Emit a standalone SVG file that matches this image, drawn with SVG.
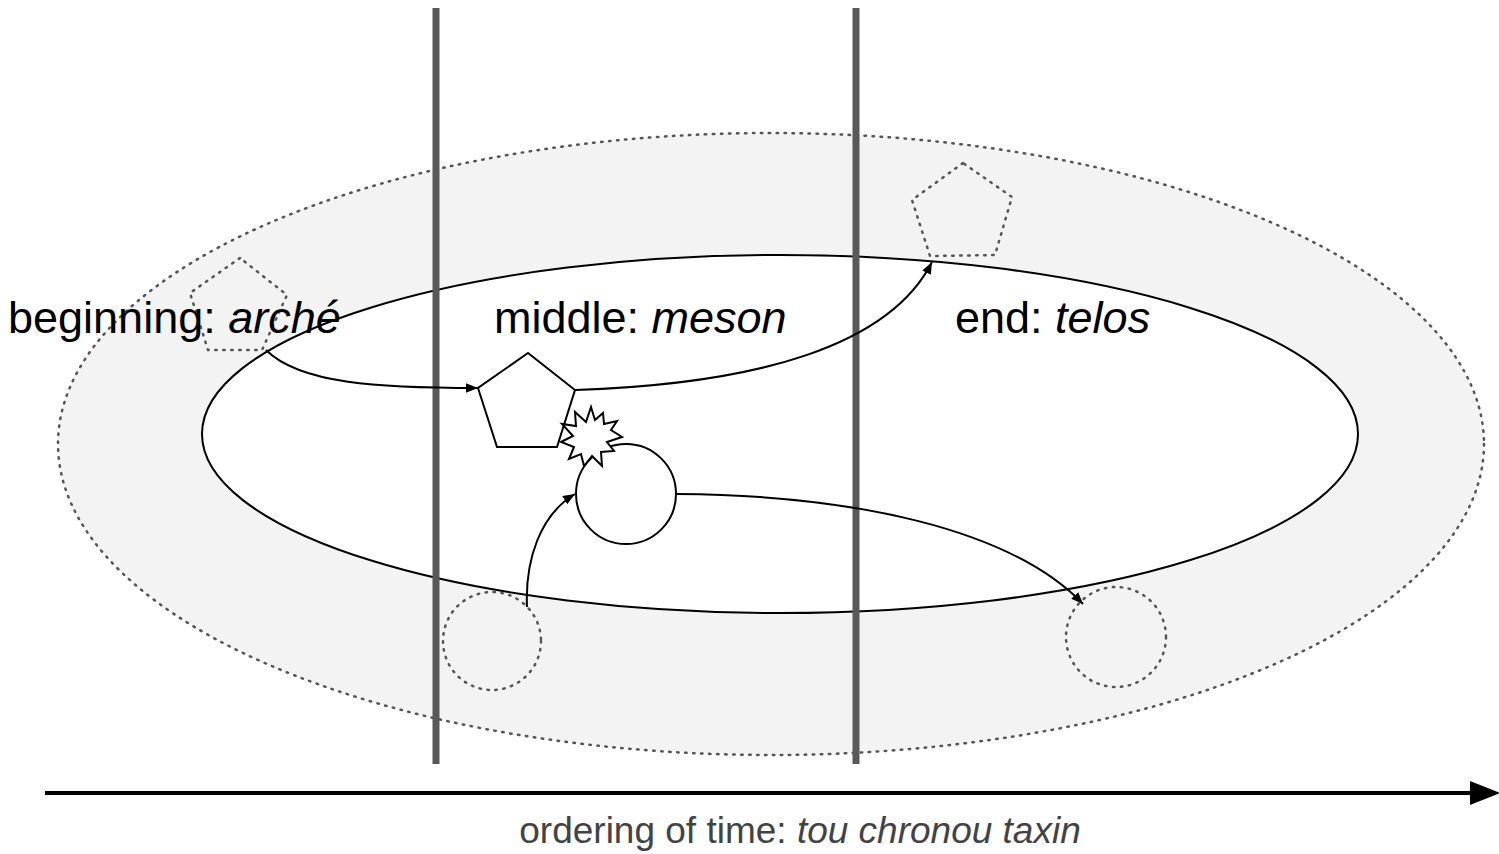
<svg xmlns="http://www.w3.org/2000/svg" width="1499" height="854" viewBox="0 0 1499 854">
<style>
.dotted{fill:none;stroke:#555;stroke-width:2.5;stroke-dasharray:1.5 6.5;stroke-linecap:round}
.solid{fill:#fff;stroke:#000;stroke-width:2}
.conn{fill:none;stroke:#000;stroke-width:2}
.lbl{font-family:"Liberation Sans",Arial,sans-serif;font-size:45px;fill:#000}
.bar{stroke:#595959;stroke-width:7}
</style>
<defs>
<marker id="ah" viewBox="0 0 10 10" refX="10" refY="5" markerWidth="12" markerHeight="12" markerUnits="userSpaceOnUse" orient="auto">
<path d="M0,1 L10,5 L0,9 Z" fill="#000"/>
</marker>
<marker id="big" viewBox="0 0 10 10" refX="0" refY="5" markerWidth="30" markerHeight="30" markerUnits="userSpaceOnUse" orient="auto">
<path d="M0,1 L10,5 L0,9 Z" fill="#000"/>
</marker>
</defs>
<g id="outer">
<ellipse cx="771" cy="444" rx="713" ry="311" fill="#f3f3f3" stroke="#555" stroke-width="2.5" stroke-dasharray="1.5 6.5" stroke-linecap="round"/>
</g>
<g id="inner">
<ellipse cx="780" cy="434" rx="578" ry="179" class="solid"/>
</g>
<g id="arche-shape">
<polygon class="dotted" points="240,258 190,293 208,350 262,350 287,295"/>
</g>
<g id="telos-shape">
<polygon class="dotted" points="963,163 912,200 930,256 995,255 1012,197"/>
</g>
<g id="circle-start">
<circle class="dotted" cx="492" cy="641" r="49"/>
</g>
<g id="circle-end">
<circle class="dotted" cx="1116" cy="637" r="50"/>
</g>
<g id="bars">
<line class="bar" x1="436" y1="8" x2="436" y2="764"/>
<line class="bar" x1="856" y1="8" x2="856" y2="764"/>
</g>
<g id="pentagon">
<polygon class="solid" points="528,353 478,388 497,447 557,447 575,390"/>
</g>
<g id="circle">
<circle class="solid" cx="626" cy="494" r="50"/>
</g>
<g id="collision">
<polygon class="solid" points="622,437 607,442 614,451 601,452 602,466 592,456 584,466 581,454 569,459 574,447 561,442 573,436 562,424 576,426 575,412 586,422 591,407 595,420 603,413 604,424 617,421 611,430"/>
</g>
<g id="connectors">
<path class="conn" d="M266,350 C300,384 380,388 478,388" marker-end="url(#ah)"/>
<path class="conn" d="M575,390 C760,384 890,345 932,262" marker-end="url(#ah)"/>
<path class="conn" d="M527,607 C525,560 540,515 575,494" marker-end="url(#ah)"/>
<path class="conn" d="M677,494 C850,495 1010,528 1083,604" marker-end="url(#ah)"/>
</g>
<g id="time-axis">
<line x1="45" y1="793" x2="1470" y2="793" stroke="#000" stroke-width="4" marker-end="url(#big)"/>
</g>
<g id="labels">
<text class="lbl" x="8" y="333">beginning: <tspan font-style="italic">arché</tspan></text>
<text class="lbl" x="494" y="333">middle: <tspan font-style="italic">meson</tspan></text>
<text class="lbl" x="955" y="333">end: <tspan font-style="italic">telos</tspan></text>
<text x="800" y="843" text-anchor="middle" font-family="Liberation Sans,Arial,sans-serif" font-size="37" fill="#434343">ordering of time: <tspan font-style="italic">tou chronou taxin</tspan></text>
</g>
</svg>
